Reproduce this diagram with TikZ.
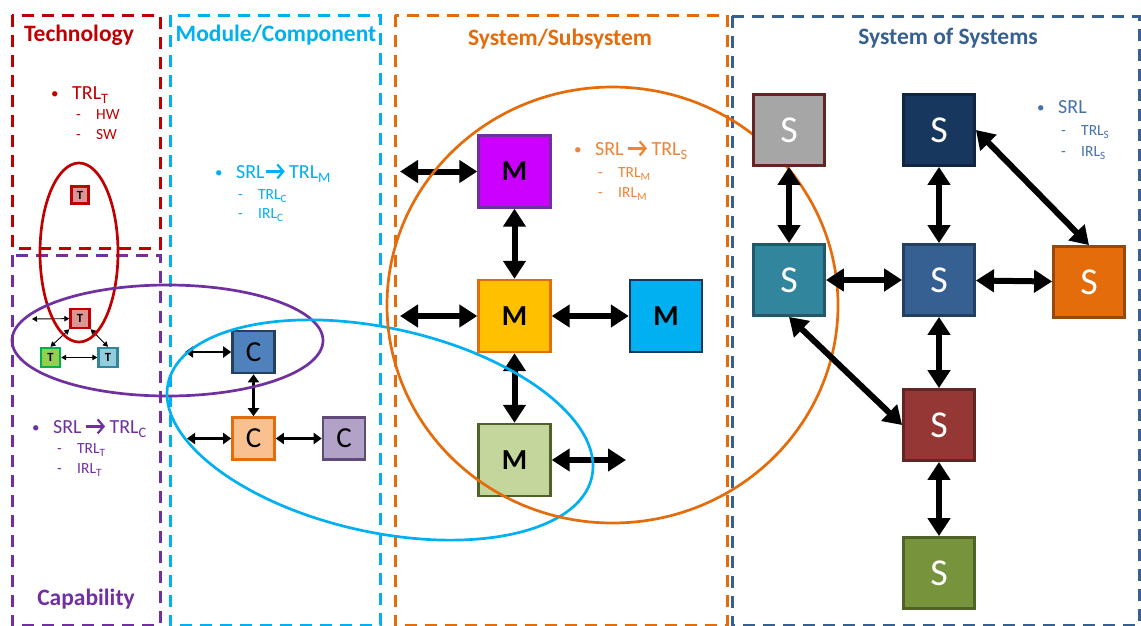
\documentclass[tikz,border=0pt]{standalone}
\usepackage{fontspec}
\setmainfont{Carlito}
\usetikzlibrary{arrows.meta}

\definecolor{techred}{HTML}{C00000}
\definecolor{modcyan}{HTML}{00B0F0}
\definecolor{sysorange}{HTML}{E46C0A}
\definecolor{systext}{HTML}{EE8536}
\definecolor{cappurple}{HTML}{7030A0}
\definecolor{sosblue}{HTML}{376092}
\definecolor{sostext}{HTML}{4672AA}

% subscript set slightly below the baseline
\newcommand{\lvsub}[1]{\raisebox{-0.22em}{\scalebox{0.72}{#1}}}
% heavy arrow used inside the text lines
\newcommand{\goesto}[1]{\tikz[baseline=0pt]\draw[draw=#1,line width=0.11em,-{Straight Barb[length=0.3em,width=0.7em,line width=0.11em]}] (0pt,0.33em) -- (0.95em,0.33em);}
\newcommand{\bulletlead}{\makebox[21pt][l]{\raisebox{0.5pt}{\fontsize{15}{15}\selectfont\textbullet}}}
\newcommand{\dashlead}{\makebox[20pt][l]{-}}

\begin{document}
\begin{tikzpicture}[x=1pt,y=-1pt,
  frame/.style={line width=3pt,dash pattern=on 12pt off 8pt},
  title/.style={anchor=base,inner sep=0pt,font=\fontsize{23.5}{27}\selectfont\bfseries},
  mainline/.style={anchor=base west,inner sep=0pt,font=\fontsize{20}{24}\selectfont},
  subline/.style={anchor=base west,inner sep=0pt,font=\fontsize{15.5}{18}\selectfont},
  tbox/.style={draw,line width=2.4pt,minimum size=17pt,inner sep=0pt,font=\fontsize{12.5}{12.5}\selectfont\bfseries},
  cbox/.style={draw,line width=2.6pt,minimum size=42pt,inner sep=0pt,font=\fontsize{29}{29}\selectfont},
  mbox/.style={draw,line width=2.4pt,minimum size=72pt,inner sep=0pt,font=\fontsize{29}{29}\selectfont\bfseries},
  sbox/.style={draw,line width=2.8pt,minimum size=71pt,inner sep=0pt,text=white,font=\fontsize{38}{38}\selectfont},
  bigarrow/.style={line width=6pt,{Triangle[length=18pt,width=22pt]}-{Triangle[length=18pt,width=22pt]}},
  medarrow/.style={line width=2.6pt,{Triangle[length=8pt,width=11pt]}-{Triangle[length=8pt,width=11pt]}},
  smallarrow/.style={line width=0.9pt,{Triangle[length=5pt,width=5.5pt]}-{Triangle[length=5pt,width=5.5pt]}},
  ring/.style={line width=2.7pt}]

\useasboundingbox[fill=white] (0,0) rectangle (1141,625);

% ---- dashed frames of the five levels ----
\draw[frame,techred] (12,15) rectangle (160,248);
\draw[frame,cappurple] (12,255) rectangle (160,625);
\draw[frame,modcyan] (170,15) rectangle (380,625);
\draw[frame,sysorange] (395,15) rectangle (727,625);
\draw[frame,sosblue] (732,16) rectangle (1139,625);

% ---- level titles ----
\node[title,text=techred] (ttech) at (79,41) {Technology};
\node[title,text=modcyan] (tmod) at (276,41) {Module/Component};
\node[title,text=sysorange] (tsys) at (560,45) {System/Subsystem};
\node[title,text=sosblue] (tsos) at (948,44) {System of Systems};
\node[title,text=cappurple] (tcap) at (86,605) {Capability};

% ---- readiness lists ----
\node[mainline,text=techred] (l1) at (51,99) {\bulletlead TRL\lvsub{T}};
\node[subline,text=techred] (l2) at (76,119) {\dashlead HW};
\node[subline,text=techred] (l3) at (76,139) {\dashlead SW};

\node[mainline,text=modcyan] (m1) at (215,178) {\bulletlead SRL\goesto{modcyan}\,TRL\lvsub{M}};
\node[subline,text=modcyan] (m2) at (238,199) {\dashlead TRL\lvsub{C}};
\node[subline,text=modcyan] (m3) at (238,218) {\dashlead IRL\lvsub{C}};

\node[mainline,text=cappurple] (c1) at (32,433) {\bulletlead SRL\,\goesto{cappurple}\,TRL\lvsub{C}};
\node[subline,text=cappurple] (c2) at (57,453) {\dashlead TRL\lvsub{T}};
\node[subline,text=cappurple] (c3) at (57,473) {\dashlead IRL\lvsub{T}};

\node[mainline,text=systext] (s1) at (574,155) {\bulletlead SRL\,\goesto{systext}\,TRL\lvsub{S}};
\node[subline,text=systext] (s2) at (598,177) {\dashlead TRL\lvsub{M}};
\node[subline,text=systext] (s3) at (598,197) {\dashlead IRL\lvsub{M}};

\node[mainline,text=sostext] (o1) at (1037,113) {\bulletlead SRL};
\node[subline,text=sostext] (o2) at (1061,135) {\dashlead TRL\lvsub{S}};
\node[subline,text=sostext] (o3) at (1061,156) {\dashlead IRL\lvsub{S}};

% ---- technologies ----
\node[tbox,draw=techred,fill={rgb,255:red,217;green,150;blue,148}] (T0) at (80,195) {T};
\node[tbox,minimum size=19pt,draw=techred,fill={rgb,255:red,217;green,150;blue,148}] (Tr) at (80,318.5) {T};
\node[tbox,minimum size=19pt,draw={rgb,255:red,0;green,176;blue,80},fill={rgb,255:red,146;green,208;blue,80}] (Tg) at (50.5,357.5) {T};
\node[tbox,minimum size=19pt,draw={rgb,255:red,49;green,133;blue,156},fill={rgb,255:red,147;green,205;blue,221}] (Tb) at (108,357.5) {T};
\coordinate (tfree) at (32,319);
\draw[smallarrow] (tfree) -- (Tr);
\draw[smallarrow] (Tr.south west) -- (Tg.north);
\draw[smallarrow] (Tr.south east) -- (Tb.north);
\draw[smallarrow] (Tg) -- (Tb);

% ---- components ----
\node[cbox,draw={rgb,255:red,36;green,64;blue,97},fill={rgb,255:red,79;green,129;blue,189}] (Ct) at (253.5,352) {C};
\node[cbox,draw=sysorange,fill={rgb,255:red,250;green,192;blue,144}] (Cm) at (253.5,438.5) {C};
\node[cbox,draw={rgb,255:red,96;green,74;blue,123},fill={rgb,255:red,179;green,162;blue,199}] (Cr) at (344,438.5) {C};
\coordinate (ctfree) at (185,352);
\coordinate (cmfree) at (187,438.5);
\draw[medarrow] (ctfree) -- (Ct);
\draw[medarrow] (Ct) -- (Cm);
\draw[medarrow] (cmfree) -- (Cm);
\draw[medarrow] (Cm) -- (Cr);

% ---- modules ----
\node[mbox,draw=cappurple,fill={rgb,255:red,204;green,0;blue,255}] (Mt) at (514.5,171.5) {M};
\node[mbox,draw=sysorange,fill={rgb,255:red,255;green,192;blue,0}] (Mm) at (514.5,316) {M};
\node[mbox,draw={rgb,255:red,23;green,55;blue,94},fill=modcyan] (Mr) at (666,316) {M};
\node[mbox,draw={rgb,255:red,79;green,98;blue,40},fill={rgb,255:red,195;green,214;blue,155}] (Mb) at (514.5,460) {M};
\coordinate (mtfree) at (400,171.5);
\coordinate (mmfree) at (400,316);
\coordinate (mbfree) at (626,460);
\draw[bigarrow] (mtfree) -- (Mt);
\draw[bigarrow] (Mt) -- (Mm);
\draw[bigarrow] (mmfree) -- (Mm);
\draw[bigarrow] (Mm) -- (Mr);
\draw[bigarrow] (Mm) -- (Mb);
\draw[bigarrow] (Mb) -- (mbfree);

% ---- groupings ----
\draw[ring,techred] (79,252.5) ellipse [x radius=39pt,y radius=89.5pt];
\draw[ring,cappurple] (167.5,340.5) ellipse [x radius=155.5pt,y radius=55.5pt];
\draw[ring,modcyan,shift={(380,430)},rotate=-12.5] (0,0) ellipse [x radius=217pt,y radius=102pt];
\draw[ring,sysorange] (612.5,305) ellipse [x radius=225.5pt,y radius=218pt];

% ---- systems ----
\node[sbox,draw={rgb,255:red,99;green,37;blue,35},fill={rgb,255:red,166;green,166;blue,166}] (Sgy) at (789,130) {S};
\node[sbox,draw={rgb,255:red,16;green,37;blue,63},fill={rgb,255:red,23;green,55;blue,94}] (Snv) at (939,130) {S};
\node[sbox,draw={rgb,255:red,33;green,89;blue,104},fill={rgb,255:red,49;green,133;blue,156}] (Stl) at (789,280) {S};
\node[sbox,draw={rgb,255:red,36;green,64;blue,97},fill={rgb,255:red,55;green,96;blue,146}] (Sbl) at (939,280) {S};
\node[sbox,draw={rgb,255:red,152;green,72;blue,7},fill=sysorange] (Sor) at (1089,282) {S};
\node[sbox,draw={rgb,255:red,99;green,37;blue,35},fill={rgb,255:red,149;green,55;blue,53}] (Srd) at (939,425) {S};
\node[sbox,draw={rgb,255:red,79;green,98;blue,40},fill={rgb,255:red,119;green,147;blue,60}] (Sgn) at (939,573) {S};
\draw[bigarrow] (Sgy) -- (Stl);
\draw[bigarrow] (Snv) -- (Sbl);
\draw[bigarrow] (Stl) -- (Sbl);
\draw[bigarrow] (Sbl) -- (Sor);
\draw[bigarrow] (Snv.east) -- (Sor.north);
\draw[bigarrow] (Stl.south) -- (Srd.west);
\draw[bigarrow] (Sbl) -- (Srd);
\draw[bigarrow] (Srd) -- (Sgn);
\end{tikzpicture}
\end{document}
